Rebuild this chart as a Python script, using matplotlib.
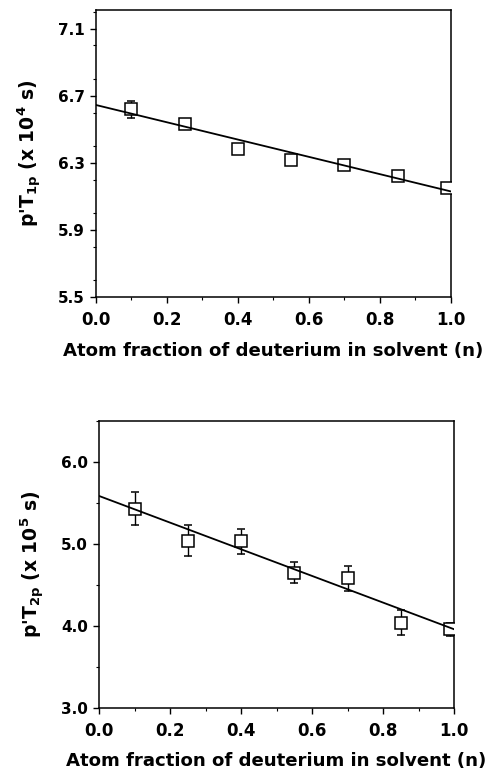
import matplotlib
matplotlib.use("Agg")
import matplotlib.pyplot as plt
from matplotlib.ticker import MultipleLocator, FormatStrFormatter

plt.rcParams['font.family'] = ['DejaVu Sans']
plt.rcParams['font.weight'] = 'bold'
plt.rcParams['mathtext.fontset'] = 'dejavusans'
plt.rcParams['mathtext.default'] = 'bf'

# Data
n_frac = [0.10, 0.25, 0.40, 0.55, 0.70, 0.85, 0.99]

t1_vals = [6.62, 6.53, 6.38, 6.32, 6.29, 6.22, 6.15]
t1_err = [0.05, 0.02, 0.02, 0.02, 0.02, 0.02, 0.02]
t1_fit = (6.645, -0.515)   # intercept, slope

t2_vals = [5.43, 5.04, 5.03, 4.65, 4.58, 4.04, 3.96]
t2_err = [0.20, 0.19, 0.15, 0.13, 0.15, 0.15, 0.08]
t2_fit = (5.585, -1.625)

x_ticks = [0.0, 0.2, 0.4, 0.6, 0.8, 1.0]
t1_yticks = [5.5, 5.9, 6.3, 6.7, 7.1]
t2_yticks = [3.0, 4.0, 5.0, 6.0]

xlabel = "Atom fraction of deuterium in solvent (n)"
t1_ylabel = r"p'T$_{1p}$ (x 10$^{4}$ s)"
t2_ylabel = r"p'T$_{2p}$ (x 10$^{5}$ s)"

fig = plt.figure(figsize=(4.89, 7.78), dpi=100)
ax1 = fig.add_axes([0.196, 0.618, 0.726, 0.369])
ax2 = fig.add_axes([0.2025, 0.090, 0.726, 0.369])


def style(ax, yticks, ylim, yminor, ylabel, yfmt):
    ax.set_xlim(0.0, 1.0)
    ax.set_ylim(*ylim)
    ax.set_xticks(x_ticks)
    ax.set_yticks(yticks)
    ax.xaxis.set_minor_locator(MultipleLocator(0.1))
    ax.yaxis.set_minor_locator(MultipleLocator(yminor))
    ax.xaxis.set_major_formatter(FormatStrFormatter('%.1f'))
    ax.yaxis.set_major_formatter(FormatStrFormatter(yfmt))
    ax.tick_params(axis='both', which='major', direction='out', length=4, width=1.0)
    ax.tick_params(axis='both', which='minor', direction='out', length=2.5, width=0.8)
    ax.tick_params(axis='x', labelsize=12, pad=6)
    ax.tick_params(axis='y', labelsize=11, pad=4)
    for lab in ax.get_xticklabels() + ax.get_yticklabels():
        lab.set_fontweight('bold')
    for s in ax.spines.values():
        s.set_linewidth(1.1)
    ax.set_xlabel(xlabel, fontsize=13.1, fontweight='bold', labelpad=9)
    ax.set_ylabel(ylabel, fontsize=13.5, fontweight='bold', labelpad=10)


for ax, vals, err, fit in [(ax1, t1_vals, t1_err, t1_fit), (ax2, t2_vals, t2_err, t2_fit)]:
    ax.errorbar(n_frac, vals, yerr=err, fmt='s', mfc='white', mec='black', ms=9,
                mew=1.1, ecolor='black', elinewidth=1.0, capsize=3, capthick=1.0,
                zorder=3)
    xs = [0.0, 1.0]
    ax.plot(xs, [fit[0] + fit[1] * x for x in xs], color='black', lw=1.3, zorder=4)

style(ax1, t1_yticks, (5.5, 7.21), 0.2, t1_ylabel, '%.1f')
style(ax2, t2_yticks, (3.0, 6.5), 0.5, t2_ylabel, '%.1f')

fig.savefig("out.png", dpi=100)
